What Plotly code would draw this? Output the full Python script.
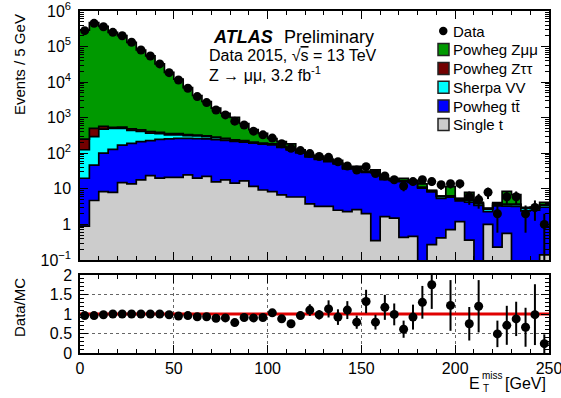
import numpy as np
import plotly.graph_objects as go

# ---- binning: 5 GeV bins of E_T^miss from 0 to 250 GeV ----
bin_lo = list(range(0, 250, 5))
bin_width = 5

# ---- observed events per bin ----
data_counts = [280000, 450000, 362000, 251000, 202000, 132000, 80200, 54500, 32500, 18500,
               11500, 6740, 3920, 2660, 1650, 1200, 800, 625, 418, 330,
               268, 185, 138, 119, 98, 81, 77, 58, 44, 34,
               42, 27, 23, 18, 12, 16, 18, 16, 13, 14,
               14, 6, 5, 8, 2, 6, 6, 2, 3, 1]

# ---- simulated samples (stacked bottom -> top: single t, ttbar, VV, Ztautau, Zmumu) ----
single_top = [0.9, 4.7, 8.4, 8.0, 15, 13.8, 17.8, 23.4, 20, 21,
              21, 24.6, 20, 22.4, 15.8, 17.8, 14.4, 16.7, 11.7, 9.3,
              8.4, 6.8, 5.9, 5.9, 3.8, 3.2, 3.2, 2.5, 2.3, 2.6,
              2.0, 0.35, 1.66, 1.5, 0.43, 0.46, 0, 0.27, 0.42, 0.71,
              1.2, 0.36, 0, 1.0, 0.23, 0.56, 0, 0, 0, 0.14]

ttbar = [19, 42, 92, 120, 155, 176, 194, 205, 225, 234,
         241, 237, 238, 232, 225, 212, 200, 190, 180, 172,
         165, 140, 118, 97, 75, 64, 55, 48, 34, 35,
         27, 28, 16.5, 15.5, 15.6, 14.5, 10.5, 8.0, 5.0, 5.1,
         3.4, 3.9, 3.4, 1.3, 3.1, 2.7, 3.2, 2.4, 2.5, 2.9]

diboson = [106, 248, 380, 372, 330, 250, 198, 137, 110, 75,
           68, 54, 48, 40, 33, 24, 18, 14, 11, 9,
           7.5, 6, 5, 4, 3.2, 2.7, 2.2, 1.8, 1.5, 1.3,
           1.1, 0.9, 0.8, 0.7, 0.6, 0.5, 0.45, 0.4, 0.6, 0.35,
           0.5, 0.45, 0.4, 0.4, 0.4, 0.35, 0.4, 0.4, 0.4, 0.4]

ztautau = [124, 205, 90, 40, 45, 45, 45, 40, 35, 30,
           25, 22, 18, 15, 12, 10, 8, 6, 5, 4,
           3.5, 3, 2.5, 2, 1.6, 1.3, 1.1, 0.9, 0.8, 0.7,
           0.6, 0.4, 0.35, 0.3, 0.3, 0.3, 0.25, 0.2, 0.2, 0.2,
           0.2, 0.2, 0.2, 0.1, 0.1, 0.1, 0.1, 0.1, 0.1, 0.1]

zmumu = [291417, 468250, 368818, 250460, 201455, 131515, 79745, 54095, 32110, 18518,
         11750, 6683, 3891, 2551, 1568, 1070, 785, 460, 256.7, 168.3,
         75.8, 55.6, 52.6, 15.1, 5.5, 11.5, 6.6, 9.8, 1.4, 3.4,
         1.1, 4.5, 0.35, 0.18, 2.74, 1.63, 2.65, 0.27, 0.05, 5.12,
         0.1, 3.09, 0.17, 0.1, 0.25, 4.74, 3.16, 0.13, 0.05, 0.63]

# uncertainty on the Data/MC ratio (off-scale bins have none drawn)
ratio_err = [0.01, 0.01, 0.01, 0.01, 0.01, 0.01, 0.01, 0.01, 0.015, 0.015,
             0.02, 0.02, 0.025, 0.03, 0.035, 0.04, 0.04, 0.05, 0.06, 0.06,
             0.07, 0.07, 0.08, 0.1, 0.15, 0.12, 0.22, 0.2, 0.23, 0.17,
             0.3, 0.19, 0.32, 0.28, 0.22, 0.32, 0.42, 0.62, None, 0.65,
             None, 0.43, 0.67, None, 0.34, 0.5, 0.44, 0.5, 0.78, 0.24]

y_tick_vals = [0.1, 1, 10, 100, 1e3, 1e4, 1e5, 1e6]
y_tick_text = ["10<sup>−1</sup>", "1", "10", "10<sup>2</sup>", "10<sup>3</sup>",
               "10<sup>4</sup>", "10<sup>5</sup>", "10<sup>6</sup>"]

# ---- derived arrays ----
edges = np.append(np.array(bin_lo, float), bin_lo[-1] + bin_width)
centers = np.array(bin_lo, float) + bin_width / 2
data = np.array(data_counts, float)

layers = [
    ("Single t", single_top, "#cccccc"),
    ("Powheg tt̄", ttbar, "#0000ff"),
    ("Sherpa VV", diboson, "#00ffff"),
    ("Powheg Zττ", ztautau, "#730000"),
    ("Powheg Zμμ", zmumu, "#009900"),
]

FONT = "Liberation Sans, Arial, Helvetica, sans-serif"
floor = 1e-3

fig = go.Figure()

# baseline for the stacked fills
fig.add_trace(go.Scatter(x=edges, y=np.full(len(edges), floor), mode="lines",
                         line=dict(width=0, shape="hv"), hoverinfo="skip",
                         showlegend=False, xaxis="x", yaxis="y"))
cum = np.zeros(len(bin_lo))
for name, vals, col in layers:
    cum = cum + np.array(vals, float)
    top = np.maximum(cum, floor)
    fig.add_trace(go.Scatter(x=edges, y=np.append(top, top[-1]), mode="lines",
                             line=dict(shape="hv", color="black", width=1.7),
                             fill="tonexty", fillcolor=col, name=name,
                             hoverinfo="skip", showlegend=False,
                             xaxis="x", yaxis="y"))
mc_total = cum

# data points with Poisson errors
err_up = np.sqrt(data)
err_dn = np.minimum(np.sqrt(data), data * 0.999)
fig.add_trace(go.Scatter(x=centers, y=data, mode="markers",
                         marker=dict(size=9, color="black", symbol="circle"),
                         error_y=dict(type="data", array=err_up, arrayminus=err_dn,
                                      symmetric=False, thickness=2, width=0, color="black"),
                         showlegend=False, hoverinfo="skip", xaxis="x", yaxis="y"))

# ratio panel
ratio = data / mc_total
ratio_shown = np.where(ratio <= 2.0, ratio, np.nan)
r_err = np.array([np.nan if e is None else e for e in ratio_err], float)
fig.add_trace(go.Scatter(x=centers, y=ratio_shown, mode="markers",
                         marker=dict(size=9, color="black"),
                         error_y=dict(type="data", array=r_err, thickness=2, width=0, color="black"),
                         showlegend=False, hoverinfo="skip", xaxis="x2", yaxis="y2"))

# ---- axes ----
W, H = 561, 398
ML, MR, MT, MB = 80, 12, 11, 45
plot_h = H - MT - MB
main_bottom = (H - MB - 260) / plot_h
ratio_top = (H - MB - 275) / plot_h

minor_log = [k * 10.0 ** d for d in range(-1, 6) for k in range(2, 10)]

axis_common = dict(showline=True, linecolor="black", linewidth=1.5, mirror="ticks",
                   ticks="inside", tickcolor="black", tickwidth=1, zeroline=False,
                   automargin=False, ticklabeloverflow="allow")

fig.update_layout(
    width=W, height=H, autosize=False,
    margin=dict(l=ML, r=MR, t=MT, b=MB),
    paper_bgcolor="white", plot_bgcolor="white",
    font=dict(family=FONT, size=15, color="black"),
    showlegend=False,
    xaxis=dict(domain=[0, 1], range=[0, 250], anchor="y", showticklabels=False,
               tick0=0, dtick=50, ticklen=8, showgrid=False,
               minor=dict(dtick=10, tick0=0, ticks="inside", ticklen=4, tickcolor="black", showgrid=False),
               **axis_common),
    yaxis=dict(domain=[main_bottom, 1], type="log", range=[-1, 6], anchor="x",
               tickmode="array", tickvals=y_tick_vals, ticktext=y_tick_text, ticklen=8,
               showgrid=False, ticklabelstandoff=4,
               tickfont=dict(size=16),
               minor=dict(tickmode="array", tickvals=minor_log, ticks="inside", ticklen=4,
                          tickcolor="black", showgrid=False),
               **axis_common),
    xaxis2=dict(domain=[0, 1], range=[0, 250], anchor="y2", matches="x",
                tick0=0, dtick=50, ticklen=8, showticklabels=True,
                tickfont=dict(size=16), ticklabelstandoff=0,
                showgrid=True, gridcolor="#666666", griddash="dot", gridwidth=1,
                minor=dict(dtick=10, tick0=0, ticks="inside", ticklen=4, tickcolor="black", showgrid=False),
                **axis_common),
    yaxis2=dict(domain=[0, ratio_top], range=[0, 2], anchor="x2",
                tick0=0, dtick=0.5, ticklen=8, tickfont=dict(size=16), ticklabelstandoff=3,
                showgrid=True, gridcolor="#666666", griddash="dot", gridwidth=1,
                minor=dict(dtick=0.1, tick0=0, ticks="inside", ticklen=4, tickcolor="black", showgrid=False),
                **axis_common),
)

# unity line in the ratio panel
fig.add_shape(type="line", xref="x2", yref="y2", x0=0, x1=250, y0=1, y1=1,
              line=dict(color="#e00000", width=3), layer="between")


def px(xp):
    return (xp - ML) / (W - ML - MR)


def py(yp):
    return (H - MB - yp) / plot_h


annotations = []
annotations.append(dict(text="Events / 5 GeV", x=px(19), y=py(65), textangle=-90,
                        font=dict(size=15)))
annotations.append(dict(text="Data/MC", x=px(19), y=py(308), textangle=-90,
                        font=dict(size=15)))
# x-axis title: E with stacked sub/superscripts, then the unit
annotations.append(dict(text="E", x=px(481), y=py(384), xanchor="right", font=dict(size=16),
                        borderpad=0))
annotations.append(dict(text="miss", x=px(481), y=py(375), xanchor="left", font=dict(size=10),
                        borderpad=0))
annotations.append(dict(text="T", x=px(481.5), y=py(389), xanchor="left", font=dict(size=10),
                        borderpad=0))
annotations.append(dict(text="[GeV]", x=px(548), y=py(383), xanchor="right", font=dict(size=16)))

annotations.append(dict(text="<b><i>ATLAS</i></b>", x=px(211), y=py(37), xanchor="left",
                        font=dict(size=18)))
annotations.append(dict(text="Preliminary", x=px(282), y=py(37), xanchor="left",
                        font=dict(size=18)))
annotations.append(dict(text="Data 2015, √<span style='text-decoration:overline'>s</span> = 13 TeV",
                        x=px(207), y=py(56), xanchor="left", font=dict(size=16)))
annotations.append(dict(text="Z → μμ, 3.2 fb<sup>-1</sup>", x=px(207), y=py(74), xanchor="left",
                        font=dict(size=16)))

# legend
legend_rows = [("Data", None), ("Powheg Zμμ", "#009900"), ("Powheg Zττ", "#730000"),
               ("Sherpa VV", "#00ffff"), ("Powheg tt̄", "#0000ff"), ("Single t", "#cccccc")]
row_y = [31, 49.5, 68.5, 87.3, 106, 124.6]
shapes = []
for (label, col), yc in zip(legend_rows, row_y):
    if col is None:
        shapes.append(dict(type="circle", xref="paper", yref="paper",
                           x0=px(439), x1=px(447.5), y0=py(yc + 4.2), y1=py(yc - 4.2),
                           fillcolor="black", line=dict(color="black", width=0)))
    else:
        shapes.append(dict(type="rect", xref="paper", yref="paper",
                           x0=px(438), x1=px(449), y0=py(yc + 6), y1=py(yc - 6),
                           fillcolor=col, line=dict(color="#222222", width=1.5)))
    annotations.append(dict(text=label, x=px(450.5), y=py(yc), xanchor="left",
                            font=dict(size=15)))

for a in annotations:
    a.setdefault("xref", "paper")
    a.setdefault("yref", "paper")
    a.setdefault("showarrow", False)
    a.setdefault("yanchor", "middle")
    a.setdefault("xanchor", "center")
fig.update_layout(annotations=annotations)
for s in shapes:
    fig.add_shape(**s)

fig.write_html("out.html")
